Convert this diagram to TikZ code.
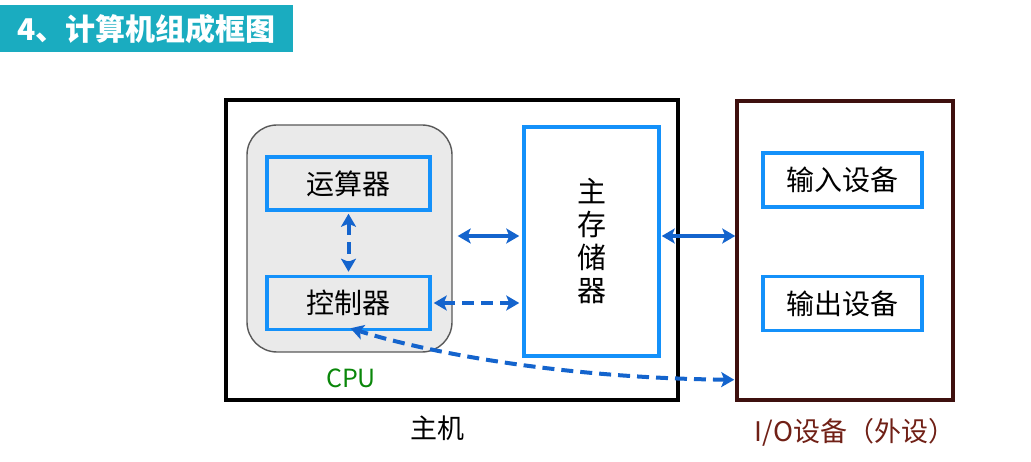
\documentclass[tikz,border=0pt]{standalone}
\usepackage{fontspec}
\setmainfont{Noto Sans CJK SC}
\usepackage{tikz}
\usetikzlibrary{arrows.meta, positioning, calc}
\definecolor{boxblue}{RGB}{20,145,250}
\definecolor{arrblue}{RGB}{20,100,205}
\definecolor{bannerteal}{RGB}{26,172,192}
\definecolor{iobrown}{RGB}{62,16,14}
\definecolor{iolabel}{RGB}{112,32,22}
\definecolor{cpugreen}{RGB}{10,135,10}
\definecolor{cpufill}{RGB}{234,234,234}
\tikzstyle{unit} = [rectangle, minimum width=163pt, minimum height=53pt, align=center, inner sep=2pt, draw=boxblue, line width=3.5pt, fill=cpufill, font=\fontsize{28}{30}\selectfont]
\tikzstyle{frame} = [rectangle, line width=3.5pt, inner sep=0pt]
\tikzstyle{biarrow} = [line width=4pt, draw=arrblue, {Stealth[length=13pt,width=15pt,inset=3pt]}-{Stealth[length=13pt,width=15pt,inset=3pt]}]
\tikzstyle{bidash} = [biarrow, dash pattern=on 12pt off 7pt]

\begin{document}
\begin{tikzpicture}[x=1pt, y=-1pt]
  \useasboundingbox (0,0) rectangle (1031,462);
  % 标题
  \node[rectangle, fill=bannerteal, minimum width=293pt, minimum height=47pt, anchor=north west, text=white, font=\bfseries\fontsize{30}{32}\selectfont] (title) at (0,5) {4、计算机组成框图};

  % 主机
  \node[frame, draw=black, minimum width=452pt, minimum height=300pt] (host) at (452,250) {};
  \node[rectangle, rounded corners=30pt, draw=black!65, line width=1.4pt, fill=cpufill, minimum width=205pt, minimum height=227pt] (cpu) at (349.5,238.5) {};
  \node[unit] (alu) at (348.5,183.5) {运算器};
  \node[unit, below=63pt of alu] (ctrl) {控制器};
  \node[unit, fill=white, minimum width=135pt, minimum height=229pt, font=\fontsize{29}{33}\selectfont] (mem) at (591.5,241.5) {主\\存\\储\\器};

  % 外设
  \node[frame, draw=iobrown, minimum width=216pt, minimum height=299pt] (io) at (845,250.5) {};
  \node[unit, fill=white, minimum width=159pt, minimum height=54pt] (inp) at (842.5,180) {输入设备};
  \node[unit, fill=white, minimum width=159pt, minimum height=54pt, below=66pt of inp] (outp) {输出设备};

  % 标签
  \node[text=cpugreen, font=\fontsize{25}{28}\selectfont] (cpulbl) at (351,378) {CPU};
  \node[font=\fontsize{27}{30}\selectfont] (hostlbl) at (437,428) {主机};
  \node[text=iolabel, font=\fontsize{27}{30}\selectfont] (iolbl) at (855,432) {I/O设备（外设）};

  % 连线
  \draw[bidash] ([yshift=-2pt]alu.south) -- ([yshift=3pt]ctrl.north);
  \draw[biarrow] ([xshift=5pt,yshift=2.5pt]cpu.east) -- ([xshift=-3pt,yshift=2.5pt]cpu.east -| mem.west);
  \draw[bidash] ([xshift=2pt]ctrl.east) -- ([xshift=-3pt]ctrl.east -| mem.west);
  \draw[biarrow] ([xshift=1pt,yshift=5.5pt]mem.east) -- ([yshift=5.5pt]mem.east -| io.west);
  \draw[bidash] ($(io.south west)+(-1,-22)$) .. controls (560,378) and (425,352) .. ($(ctrl.south)+(2,-3)$);
\end{tikzpicture}
\end{document}
